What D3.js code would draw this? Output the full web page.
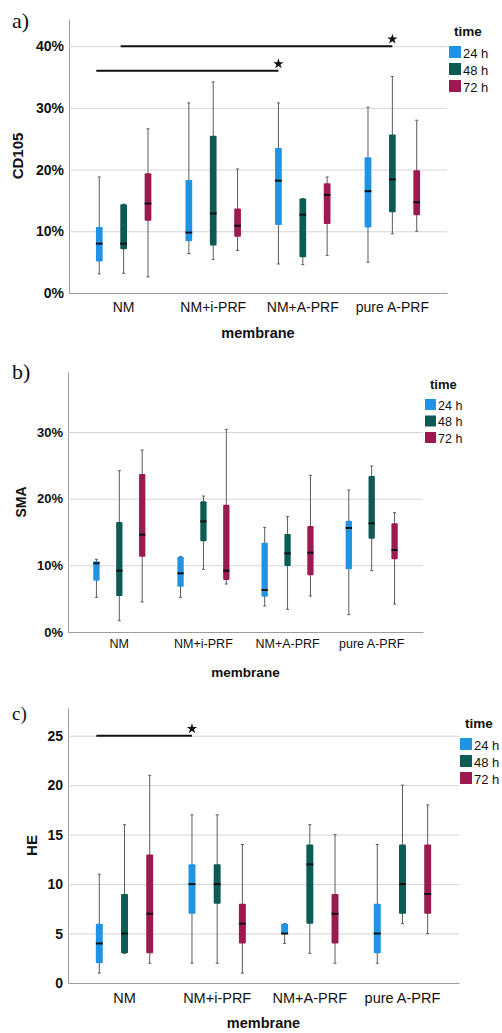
<!DOCTYPE html>
<html lang="en">
<head>
<meta charset="UTF-8">
<title>CD105, SMA and HE by membrane and time</title>
<style>
body { margin: 0; background: #fff; }
svg text { font-family: "Liberation Sans", Arial, sans-serif; fill: #111; }
.panel-label { font-family: "Liberation Serif", "Times New Roman", serif; }
.yaxis .tick line { stroke: #d3d3d3; }
.yaxis .domain, .xaxis .domain { stroke: #9c9c9c; }
.yaxis text { font-weight: bold; }
.axis-title { font-weight: bold; }
.whisker { stroke: #5c5c5c; stroke-width: 1; }
.median { stroke: #111; stroke-width: 2; }
.sig { stroke: #111; stroke-width: 2; }
</style>
</head>
<body>
<div id="chart"></div>
<script src="https://cdn.jsdelivr.net/npm/d3@7"></script>
<script>
var membranes = ["NM", "NM+i-PRF", "NM+A-PRF", "pure A-PRF"];
var times = ["24 h", "48 h", "72 h"];
var timeColors = ["#2193e5", "#0c5b55", "#9d1a51"];

// each box: [min, q1, median, q3, max], grouped by membrane, then time
var cd105 = [
    [[3.1, 5.1, 8.0, 10.7, 18.8], [3.2, 7.1, 8.0, 14.4, 14.4], [2.6, 11.7, 14.5, 19.4, 26.6]],
    [[6.4, 8.4, 9.8, 18.3, 30.8], [5.4, 7.7, 12.9, 25.5, 34.2], [6.9, 9.1, 10.9, 13.7, 20.1]],
    [[4.7, 11.0, 18.2, 23.5, 30.8], [4.6, 5.8, 12.7, 15.3, 15.3], [6.1, 11.2, 15.9, 17.8, 18.8]],
    [[5.0, 10.6, 16.5, 22.0, 30.1], [9.6, 13.1, 18.4, 25.7, 35.1], [10.0, 12.6, 14.7, 19.9, 28.0]]
];
var sma = [
    [[5.2, 7.7, 10.3, 10.6, 10.9], [1.7, 5.4, 9.2, 16.5, 24.2], [4.5, 11.3, 14.6, 23.7, 27.3]],
    [[5.2, 6.8, 8.8, 11.3, 11.3], [9.4, 13.6, 16.6, 19.6, 20.4], [7.2, 7.8, 9.2, 19.1, 30.4]],
    [[3.9, 5.3, 6.3, 13.4, 15.7], [3.4, 9.9, 11.8, 14.7, 17.3], [5.4, 8.5, 11.9, 15.9, 23.5]],
    [[2.6, 9.4, 15.6, 16.7, 21.3], [9.2, 14.0, 16.3, 23.4, 24.9], [4.2, 10.9, 12.3, 16.3, 17.9]]
];
var he = [
    [[1, 2, 4, 6, 11], [3, 3, 5, 9, 16], [2, 3, 7, 13, 21]],
    [[2, 7, 10, 12, 17], [2, 8, 10, 12, 17], [1, 4, 6, 8, 14]],
    [[4, 5, 5, 6, 6], [3, 6, 12, 14, 16], [2, 4, 7, 9, 15]],
    [[2, 3, 5, 8, 14], [6, 7, 10, 14, 20], [5, 7, 9, 14, 18]]
];

var cd105Ticks = [0, 10, 20, 30, 40];
var smaTicks = [0, 10, 20, 30];
var heTicks = [0, 5, 10, 15, 20, 25];

// significance bars: from box to box, at a value, star at the right end
var cd105Sig = [
    {from: ["NM", "48 h"], to: ["pure A-PRF", "48 h"], at: 40},
    {from: ["NM", "24 h"], to: ["NM+A-PRF", "24 h"], at: 36}
];
var smaSig = [];
var heSig = [
    {from: ["NM", "24 h"], to: ["NM+i-PRF", "24 h"], at: 25}
];

var pct = function(d) { return d + "%"; };

var panels = [
    {label: "a)", title: "CD105", data: cd105, ticks: cd105Ticks, yMax: 44.4, fmt: pct, sig: cd105Sig,
     top: 19, bottom: 293, left: 69, right: 447, tickFs: 14, catFs: 14, catPad: 9, titleFs: 15,
     yTitleX: 17, labelY: 28, labelFs: 22, legX: 449, legY: 46, sw: 12, legStep: 17, legFs: 13},
    {label: "b)", title: "SMA", data: sma, ticks: smaTicks, yMax: 39, fmt: pct, sig: smaSig,
     top: 372, bottom: 632, left: 68, right: 423, tickFs: 13, catFs: 12.5, catPad: 7, titleFs: 14,
     yTitleX: 21, labelY: 379, labelFs: 22, legX: 425, legY: 399, sw: 11, legStep: 16.5, legFs: 12.5},
    {label: "c)", title: "HE", data: he, ticks: heTicks, yMax: 27.8, fmt: function(d) { return d; }, sig: heSig,
     top: 708, bottom: 983, left: 68, right: 459, tickFs: 14, catFs: 14.5, catPad: 10, titleFs: 15,
     yTitleX: 31, labelY: 720, labelFs: 19, legX: 460, legY: 738, sw: 12, legStep: 17, legFs: 13}
];

var svg = d3.select("#chart").append("svg")
    .attr("width", 502)
    .attr("height", 1033);

panels.forEach(drawPanel);

function drawPanel(p) {
    var g = svg.append("g");

    var y = d3.scaleLinear()
        .domain([0, p.yMax])
        .range([p.bottom, p.top]);

    var x = d3.scaleBand()
        .domain(membranes)
        .range([p.left, p.right])
        .paddingInner(0)
        .paddingOuter(0.11);

    var xt = d3.scalePoint()
        .domain(times)
        .range([-0.272 * x.step(), 0.272 * x.step()]);

    var bw = 0.075 * x.step();

    function cx(m, t) { return x(m) + x.bandwidth() / 2 + xt(t); }

    var yaxis = d3.axisLeft(y)
        .tickValues(p.ticks)
        .tickFormat(p.fmt)
        .tickSizeInner(-(p.right - p.left))
        .tickSizeOuter(0)
        .tickPadding(5);

    g.append("g")
        .attr("class", "yaxis")
        .attr("transform", "translate(" + p.left + ",0)")
        .call(yaxis)
        .call(function(a) {
            a.selectAll("text").style("font-size", p.tickFs + "px");
            a.selectAll(".tick").filter(function(d) { return d === 0; }).select("line").remove();
        });

    var xaxis = d3.axisBottom(x)
        .tickSize(0)
        .tickPadding(p.catPad);

    g.append("g")
        .attr("class", "xaxis")
        .attr("transform", "translate(0," + p.bottom + ")")
        .call(xaxis)
        .call(function(a) { a.selectAll("text").style("font-size", p.catFs + "px"); });

    g.append("text")
        .attr("class", "axis-title")
        .attr("x", (p.left + p.right) / 2)
        .attr("y", p.bottom + 45)
        .attr("text-anchor", "middle")
        .style("font-size", p.titleFs - 0.5 + "px")
        .text("membrane");

    g.append("text")
        .attr("class", "axis-title")
        .attr("transform", "translate(" + p.yTitleX + "," + (p.top + p.bottom) / 2 + ") rotate(-90)")
        .attr("text-anchor", "middle")
        .attr("dominant-baseline", "central")
        .style("font-size", p.titleFs + "px")
        .text(p.title);

    g.append("text")
        .attr("class", "panel-label")
        .attr("x", 12)
        .attr("y", p.labelY)
        .style("font-size", p.labelFs + "px")
        .text(p.label);

    var boxes = [];
    membranes.forEach(function(m, i) {
        times.forEach(function(t, j) {
            var s = p.data[i][j];
            boxes.push({m: m, t: t, j: j, min: s[0], q1: s[1], med: s[2], q3: s[3], max: s[4]});
        });
    });

    var box = g.append("g").selectAll("g")
        .data(boxes)
        .join("g");

    box.append("line")
        .attr("class", "whisker")
        .attr("x1", function(d) { return cx(d.m, d.t); })
        .attr("x2", function(d) { return cx(d.m, d.t); })
        .attr("y1", function(d) { return y(d.min); })
        .attr("y2", function(d) { return y(d.max); });

    ["min", "max"].forEach(function(k) {
        box.append("line")
            .attr("class", "whisker")
            .attr("x1", function(d) { return cx(d.m, d.t) - 1.5; })
            .attr("x2", function(d) { return cx(d.m, d.t) + 1.5; })
            .attr("y1", function(d) { return y(d[k]); })
            .attr("y2", function(d) { return y(d[k]); });
    });

    box.append("rect")
        .attr("x", function(d) { return cx(d.m, d.t) - bw / 2; })
        .attr("y", function(d) { return y(d.q3); })
        .attr("width", bw)
        .attr("height", function(d) { return Math.max(1, y(d.q1) - y(d.q3)); })
        .attr("rx", 1)
        .attr("fill", function(d) { return timeColors[d.j]; });

    box.append("line")
        .attr("class", "median")
        .attr("x1", function(d) { return cx(d.m, d.t) - bw / 2; })
        .attr("x2", function(d) { return cx(d.m, d.t) + bw / 2; })
        .attr("y1", function(d) { return y(d.med); })
        .attr("y2", function(d) { return y(d.med); });

    var sig = g.append("g").selectAll("g")
        .data(p.sig)
        .join("g");

    sig.append("line")
        .attr("class", "sig")
        .attr("x1", function(d) { return cx(d.from[0], d.from[1]) - 3; })
        .attr("x2", function(d) { return cx(d.to[0], d.to[1]); })
        .attr("y1", function(d) { return y(d.at); })
        .attr("y2", function(d) { return y(d.at); });

    sig.append("path")
        .attr("d", d3.symbol().type(d3.symbolStar).size(34))
        .attr("transform", function(d) {
            return "translate(" + cx(d.to[0], d.to[1]) + "," + (y(d.at) - 7) + ")";
        })
        .attr("fill", "#111");

    // legend
    var leg = g.append("g");

    leg.append("text")
        .attr("x", p.legX + 5)
        .attr("y", p.legY - 10)
        .style("font-size", p.legFs + 0.5 + "px")
        .style("font-weight", "bold")
        .text("time");

    var item = leg.selectAll("g")
        .data(times)
        .join("g")
        .attr("transform", function(d, i) { return "translate(" + p.legX + "," + (p.legY + i * p.legStep) + ")"; });

    item.append("rect")
        .attr("width", p.sw)
        .attr("height", p.sw)
        .attr("fill", function(d, i) { return timeColors[i]; });

    item.append("text")
        .attr("x", p.sw + 2)
        .attr("y", p.sw - 0.5)
        .style("font-size", p.legFs + "px")
        .text(function(d) { return d; });
}
</script>
</body>
</html>
